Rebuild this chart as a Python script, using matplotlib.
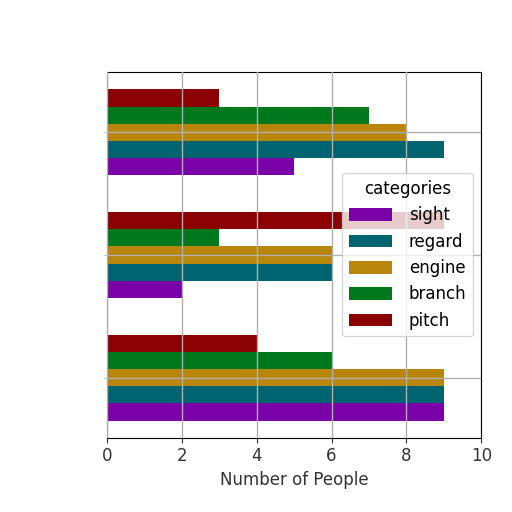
import numpy as np
import matplotlib
matplotlib.use('Agg')
import matplotlib.pyplot as plt

groups = ['group 1', 'group 2', 'group 3']  # bottom to top, no labels shown
categories = ['sight', 'regard', 'engine', 'branch', 'pitch']
sight = [9, 2, 5]
regard = [9, 6, 9]
engine = [9, 6, 8]
branch = [6, 3, 7]
pitch = [4, 9, 3]
colors = ['#7a00a8', '#006470', '#b8860b', '#00781e', '#8b0000']

plt.rcParams['font.size'] = 12
fig = plt.figure(figsize=(5.12, 5.12), dpi=100)
ax = fig.add_axes([0.209, 0.145, 0.731, 0.714])

y = np.arange(len(groups))
h = 0.14
series = [sight, regard, engine, branch, pitch]
for i, vals in enumerate(series):
    ax.barh(y + (i - 2) * h, vals, height=h, color=colors[i], label=categories[i])

ax.set_xlim(0, 10)
ax.set_ylim(-0.49, 2.49)
ax.set_yticks(y)
ax.set_yticklabels([])
ax.tick_params(axis='y', length=3, color='#c8c8c8')
ax.grid(True, color='#b0b0b0', linewidth=1)
ax.set_axisbelow(False)
ax.set_xlabel('Number of People', color='#333333')
ax.tick_params(axis='x', colors='#333333')
ax.legend(title='categories', loc='center right', handlelength=2.6,
          handleheight=0.8, handletextpad=1.0)

fig.savefig('out.png', dpi=100)
